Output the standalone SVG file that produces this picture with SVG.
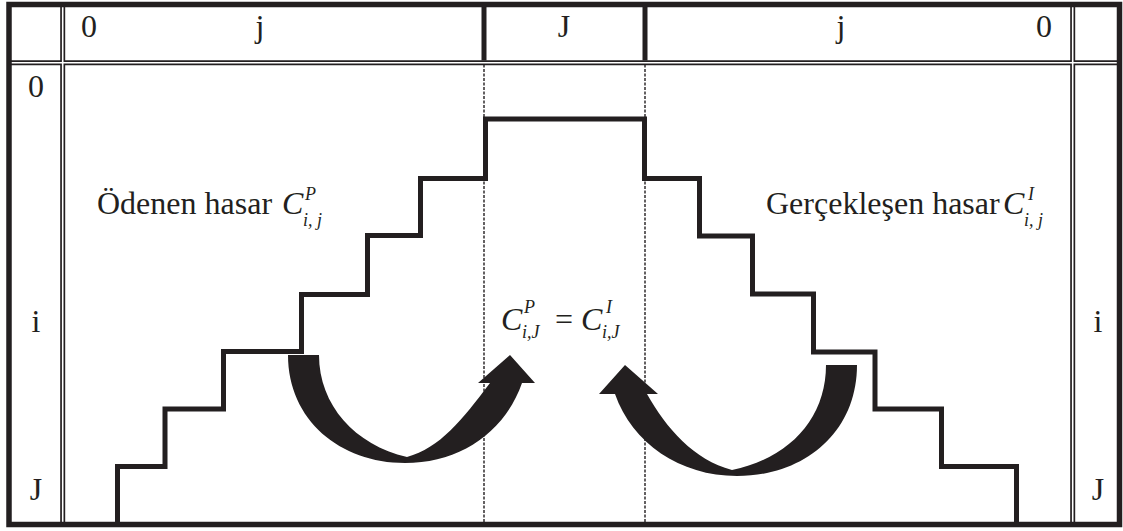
<svg xmlns="http://www.w3.org/2000/svg" width="1123" height="531" viewBox="0 0 1123 531">
<style>
.t{font-family:"Liberation Serif","Times New Roman",serif;font-size:32px;fill:#231f20}
.c{text-anchor:middle}
.m{font-style:italic}
.s{font-size:18px}
.thick{stroke:#231f20;stroke-width:5;fill:none;stroke-linejoin:miter;stroke-linecap:butt}
.dbl{stroke:#231f20;stroke-width:5;fill:none}
.gap{stroke:#fff;stroke-width:1.6;fill:none}
.dash{stroke:#231f20;stroke-width:1.4;stroke-dasharray:3 1.5;fill:none}
.arrow{fill:#231f20}
</style>
<rect width="1123" height="531" fill="#fff"/>
<g id="grid">
<path class="dbl" d="M9,62.7H1120 M62.7,4.5V524.5 M1072.7,4.5V524.5"/>
<path class="gap" d="M9,62.7H1120 M62.7,4.5V524.5 M1072.7,4.5V524.5"/>
<path class="thick" d="M484,4.5V60.5 M645,4.5V60.5"/>
<path class="dash" d="M484,64.5V522 M645,64.5V522"/>
<rect class="thick" x="9" y="4.5" width="1110.5" height="520" style="stroke-width:5.5"/>
</g>
<g id="header">
<text class="t c" x="89" y="37">0</text>
<text class="t c" x="260" y="37">j</text>
<text class="t c" x="564" y="37">J</text>
<text class="t c" x="841" y="37">j</text>
<text class="t c" x="1044" y="37">0</text>
</g>
<g id="rows">
<text class="t c" x="36" y="97">0</text>
<text class="t c" x="36" y="332">i</text>
<text class="t c" x="36" y="500">J</text>
<text class="t c" x="1098" y="332">i</text>
<text class="t c" x="1098" y="500">J</text>
</g>
<g id="stairs">
<polyline class="thick" points="117.5,524 117.5,466.5 165,466.5 165,409 223.5,409 223.5,351.5 301.5,351.5 301.5,294.5 367.5,294.5 367.5,235.5 420.5,235.5 420.5,178.5 485.5,178.5 485.5,119 644.5,119 644.5,178.5 699.5,178.5 699.5,236 752.5,236 752.5,294 813.5,294 813.5,352 875,352 875,409 941.5,409 941.5,466.5 1016.5,466.5 1016.5,524"/>
</g>
<g id="paid-label">
<text class="t" x="97" y="214">Ödenen hasar</text>
<text class="t m" x="282" y="214">C</text>
<text class="t m s" x="305" y="200">P</text>
<text class="t m s" x="303" y="226">i, j</text>
</g>
<g id="incurred-label">
<text class="t" x="766" y="214">Gerçekleşen hasar</text>
<text class="t m" x="1003" y="214">C</text>
<text class="t m s" x="1028" y="200">I</text>
<text class="t m s" x="1024" y="226">i, j</text>
</g>
<g id="equal-label">
<text class="t m" x="501" y="330">C</text>
<text class="t m s" x="524" y="313">P</text>
<text class="t m s" x="522" y="338">i,J</text>
<text class="t" x="555" y="330">=</text>
<text class="t m" x="581" y="330">C</text>
<text class="t m s" x="606" y="313">I</text>
<text class="t m s" x="602" y="338">i,J</text>
</g>
<g id="connectors">
<path class="arrow" d="M288,355 L319,355 C319,405 355,445 407,457 C440,448 462,420 490,383 L478,383 L510,355 L535,383 L522,383 C505,432 460,463 405,463 C340,463 288,420 288,355 Z"/>
<path class="arrow" d="M857,365 L826,365 C826,418 790,458 732,470 C694,460 666,428 647,394 L658,394 L625,365 L599,394 L615,394 C632,443 680,476 737,476 C805,476 857,432 857,365 Z"/>
</g>
</svg>
